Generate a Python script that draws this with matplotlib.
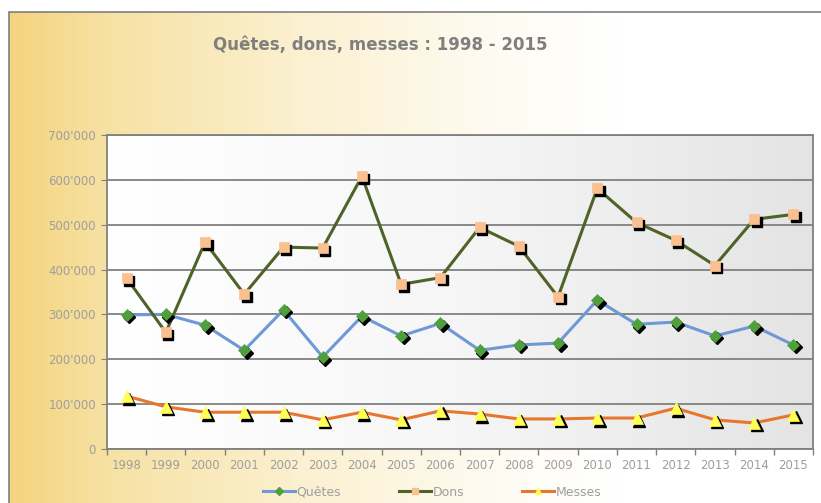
import numpy as np
import matplotlib
matplotlib.use("Agg")
import matplotlib.pyplot as plt
import matplotlib.transforms as mtransforms
from matplotlib.colors import LinearSegmentedColormap
from matplotlib.ticker import FuncFormatter, FixedLocator, NullFormatter
from matplotlib.patches import Rectangle
from matplotlib.lines import Line2D

years = ["1998", "1999", "2000", "2001", "2002", "2003", "2004", "2005", "2006",
         "2007", "2008", "2009", "2010", "2011", "2012", "2013", "2014", "2015"]
quetes = [299000, 300000, 276000, 220000, 310000, 205000, 296000, 252000, 280000,
          220000, 232000, 236000, 332000, 278000, 283000, 252000, 274000, 232000]
dons = [381000, 260000, 461000, 345000, 450000, 448000, 608000, 367000, 382000,
        494000, 452000, 339000, 581000, 505000, 465000, 409000, 512000, 523000]
messes = [118000, 94000, 82000, 82000, 82000, 65000, 82000, 65000, 85000,
          78000, 67000, 67000, 69000, 69000, 91000, 65000, 58000, 76000]

W, H = 821, 503
fig = plt.figure(figsize=(W / 100, H / 100), dpi=100)
fig.patch.set_facecolor("white")

# background gradient of the chart area
bg = fig.add_axes([9 / W, 0, 1 - 9 / W, 1 - 12 / H], zorder=-10)
grad = np.linspace(0, 1, 400)[None, :]
cmap_bg = LinearSegmentedColormap.from_list(
    "bg", [(0, "#F4D47E"), (0.12, "#F7E2A4"), (0.35, "#FBF0CF"), (0.6, "#FEFBF2"), (0.75, "#FFFFFF"), (1, "#FFFFFF")])
bg.imshow(grad, aspect="auto", cmap=cmap_bg, extent=[0, 1, 0, 1])
bg.set_axis_off()
fig.add_artist(Rectangle((9 / W, -0.01), 1.0, 1 - 12 / H + 0.01, transform=fig.transFigure,
                         fill=False, edgecolor="#7F7F7F", linewidth=1.2))

ax = fig.add_axes([107 / W, 1 - 449 / H, (813 - 107) / W, (449 - 135) / H])
n = len(years)
x = np.arange(n)

# plot-area gradient (white -> light grey)
pa = np.linspace(0, 1, 300)[None, :]
cmap_pa = LinearSegmentedColormap.from_list("pa", ["#FFFFFF", "#F6F6F6", "#E4E4E4"])
ax.imshow(pa, aspect="auto", cmap=cmap_pa, extent=[-0.5, n - 0.5, 0, 700000], zorder=0)

ax.set_xlim(-0.5, n - 0.5)
ax.set_ylim(0, 700000)

ax.yaxis.set_major_locator(FixedLocator(np.arange(0, 700001, 100000)))
ax.yaxis.set_major_formatter(FuncFormatter(lambda v, p: "0" if v == 0 else f"{int(v):,}".replace(",", "'")))
ax.grid(axis="y", color="#808080", linewidth=1.3, zorder=1)

ax.set_xticks(x)
ax.set_xticklabels(years)
ax.tick_params(axis="x", which="major", length=0, labelsize=8.5, labelcolor="#9E9E9E", pad=7)
ax.set_xticks(np.arange(-0.5, n, 1), minor=True)
ax.xaxis.set_minor_formatter(NullFormatter())
ax.tick_params(axis="x", which="minor", length=4, color="#808080", width=1)
ax.tick_params(axis="y", length=4, color="#808080", labelsize=8.5, labelcolor="#9E9E9E", pad=4)

for s in ["left", "bottom", "right", "top"]:
    ax.spines[s].set_color("#808080")
    ax.spines[s].set_linewidth(1.3)

shadow = mtransforms.offset_copy(ax.transData, fig=fig, x=2.5, y=-2.5, units="dots")

series = [
    (quetes, "Quêtes", "#6F98D6", "D", "#4FA03C", 6),
    (dons, "Dons", "#4F6228", "s", "#FAC090", 7.5),
    (messes, "Messes", "#E8772E", "^", "#FFFF55", 8.5),
]
handles = []
for vals, name, lc, mk, mc, ms in series:
    ax.plot(x, vals, color=lc, linewidth=2.2, zorder=3, solid_capstyle="round")
    ax.plot(x, vals, linestyle="none", marker=mk, markersize=ms, color="black", transform=shadow, zorder=4)
    ax.plot(x, vals, linestyle="none", marker=mk, markersize=ms, markerfacecolor=mc,
            markeredgecolor=mc, markeredgewidth=0.5, zorder=5)
    handles.append(Line2D([], [], color=lc, linewidth=2.2, marker=mk, markersize=4.5,
                          markerfacecolor=mc, markeredgecolor=mc, label=name))

fig.legend(handles=handles, loc="center", bbox_to_anchor=(432 / W, 1 - 492 / H), ncol=3,
           frameon=False, fontsize=9, labelcolor="#9E9E9E", handlelength=2.6,
           handletextpad=0.1, columnspacing=4.6)

fig.text(380 / W, 1 - 45 / H, "Quêtes, dons, messes : 1998 - 2015", ha="center", va="center",
         fontsize=12, fontweight="bold", color="#7F7F7F")

fig.savefig("out.png", dpi=100)
